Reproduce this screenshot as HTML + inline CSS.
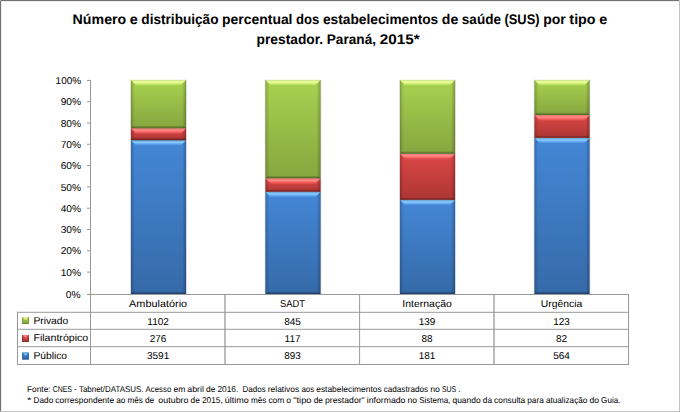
<!DOCTYPE html>
<html><head><meta charset="utf-8"><title>Estabelecimentos de saúde SUS - Paraná 2015</title>
<style>html,body{margin:0;padding:0;background:#fff;width:680px;height:412px;overflow:hidden}
text{white-space:pre}</style></head>
<body>
<svg width="680" height="412" viewBox="0 0 680 412" font-family='"Liberation Sans", Arial, sans-serif' text-rendering="geometricPrecision" style="display:block">
<defs>
<linearGradient id="fg" x1="0" y1="0" x2="0" y2="1"><stop offset="0" stop-color="#a8d250"/><stop offset="1" stop-color="#86a63f"/></linearGradient>
<linearGradient id="tg" x1="0" y1="0" x2="0" y2="1"><stop offset="0" stop-color="#c4e090"/><stop offset="0.38" stop-color="#f5ff99"/><stop offset="0.7" stop-color="#c8ee74"/><stop offset="1" stop-color="#a8d250"/></linearGradient>
<linearGradient id="fr" x1="0" y1="0" x2="0" y2="1"><stop offset="0" stop-color="#dc4846"/><stop offset="1" stop-color="#ac3634"/></linearGradient>
<linearGradient id="tr" x1="0" y1="0" x2="0" y2="1"><stop offset="0" stop-color="#e07870"/><stop offset="0.38" stop-color="#ff8a88"/><stop offset="0.7" stop-color="#f46462"/><stop offset="1" stop-color="#dc4846"/></linearGradient>
<linearGradient id="fb" x1="0" y1="0" x2="0" y2="1"><stop offset="0" stop-color="#4487d6"/><stop offset="1" stop-color="#356aa8"/></linearGradient>
<linearGradient id="tb" x1="0" y1="0" x2="0" y2="1"><stop offset="0" stop-color="#6898c8"/><stop offset="0.38" stop-color="#88d0ff"/><stop offset="0.7" stop-color="#62a4f0"/><stop offset="1" stop-color="#4487d6"/></linearGradient>
<linearGradient id="sl" x1="0" y1="0" x2="1" y2="0"><stop offset="0" stop-color="#000" stop-opacity="0.30"/><stop offset="0.25" stop-color="#000" stop-opacity="0.14"/><stop offset="1" stop-color="#000" stop-opacity="0"/></linearGradient>
<linearGradient id="sr" x1="0" y1="0" x2="1" y2="0"><stop offset="0" stop-color="#000" stop-opacity="0"/><stop offset="0.75" stop-color="#000" stop-opacity="0.18"/><stop offset="1" stop-color="#000" stop-opacity="0.32"/></linearGradient>
<linearGradient id="sb" x1="0" y1="0" x2="0" y2="1"><stop offset="0" stop-color="#000" stop-opacity="0.12"/><stop offset="1" stop-color="#000" stop-opacity="0.38"/></linearGradient>
</defs>
<rect x="0" y="0" width="680" height="412" fill="#fff"/>
<rect x="129.90" y="80" width="1" height="214" fill="#000" opacity="0.07"/>
<rect x="186.10" y="80" width="1" height="214" fill="#201040" opacity="0.09"/>
<rect x="130.90" y="140.15" width="55.20" height="153.85" fill="url(#fb)"/>
<rect x="130.90" y="140.15" width="4" height="153.85" fill="url(#sl)"/>
<rect x="182.10" y="140.15" width="4" height="153.85" fill="url(#sr)"/>
<polygon points="130.90,294.00 186.10,294.00 183.90,291.80 133.10,291.80" fill="url(#sb)"/>
<polygon points="130.90,140.15 186.10,140.15 180.50,145.75 136.50,145.75" fill="url(#tb)"/>
<rect x="130.90" y="128.26" width="55.20" height="11.89" fill="url(#fr)"/>
<rect x="130.90" y="128.26" width="4" height="11.89" fill="url(#sl)"/>
<rect x="182.10" y="128.26" width="4" height="11.89" fill="url(#sr)"/>
<polygon points="130.90,140.15 186.10,140.15 183.90,137.95 133.10,137.95" fill="url(#sb)"/>
<polygon points="130.90,128.26 186.10,128.26 180.70,133.66 136.30,133.66" fill="url(#tr)"/>
<rect x="130.90" y="79.90" width="55.20" height="48.36" fill="url(#fg)"/>
<rect x="130.90" y="79.90" width="4" height="48.36" fill="url(#sl)"/>
<rect x="182.10" y="79.90" width="4" height="48.36" fill="url(#sr)"/>
<polygon points="130.90,128.26 186.10,128.26 183.90,126.06 133.10,126.06" fill="url(#sb)"/>
<polygon points="130.90,79.90 186.10,79.90 180.50,85.50 136.50,85.50" fill="url(#tg)"/>
<rect x="264.40" y="80" width="1" height="214" fill="#000" opacity="0.07"/>
<rect x="320.60" y="80" width="1" height="214" fill="#201040" opacity="0.09"/>
<rect x="265.40" y="191.78" width="55.20" height="102.22" fill="url(#fb)"/>
<rect x="265.40" y="191.78" width="4" height="102.22" fill="url(#sl)"/>
<rect x="316.60" y="191.78" width="4" height="102.22" fill="url(#sr)"/>
<polygon points="265.40,294.00 320.60,294.00 318.40,291.80 267.60,291.80" fill="url(#sb)"/>
<polygon points="265.40,191.78 320.60,191.78 315.00,197.38 271.00,197.38" fill="url(#tb)"/>
<rect x="265.40" y="178.28" width="55.20" height="13.50" fill="url(#fr)"/>
<rect x="265.40" y="178.28" width="4" height="13.50" fill="url(#sl)"/>
<rect x="316.60" y="178.28" width="4" height="13.50" fill="url(#sr)"/>
<polygon points="265.40,191.78 320.60,191.78 318.40,189.58 267.60,189.58" fill="url(#sb)"/>
<polygon points="265.40,178.28 320.60,178.28 315.00,183.88 271.00,183.88" fill="url(#tr)"/>
<rect x="265.40" y="79.90" width="55.20" height="98.38" fill="url(#fg)"/>
<rect x="265.40" y="79.90" width="4" height="98.38" fill="url(#sl)"/>
<rect x="316.60" y="79.90" width="4" height="98.38" fill="url(#sr)"/>
<polygon points="265.40,178.28 320.60,178.28 318.40,176.08 267.60,176.08" fill="url(#sb)"/>
<polygon points="265.40,79.90 320.60,79.90 315.00,85.50 271.00,85.50" fill="url(#tg)"/>
<rect x="398.90" y="80" width="1" height="214" fill="#000" opacity="0.07"/>
<rect x="455.10" y="80" width="1" height="214" fill="#201040" opacity="0.09"/>
<rect x="399.90" y="199.86" width="55.20" height="94.14" fill="url(#fb)"/>
<rect x="399.90" y="199.86" width="4" height="94.14" fill="url(#sl)"/>
<rect x="451.10" y="199.86" width="4" height="94.14" fill="url(#sr)"/>
<polygon points="399.90,294.00 455.10,294.00 452.90,291.80 402.10,291.80" fill="url(#sb)"/>
<polygon points="399.90,199.86 455.10,199.86 449.50,205.46 405.50,205.46" fill="url(#tb)"/>
<rect x="399.90" y="153.71" width="55.20" height="46.16" fill="url(#fr)"/>
<rect x="399.90" y="153.71" width="4" height="46.16" fill="url(#sl)"/>
<rect x="451.10" y="153.71" width="4" height="46.16" fill="url(#sr)"/>
<polygon points="399.90,199.86 455.10,199.86 452.90,197.66 402.10,197.66" fill="url(#sb)"/>
<polygon points="399.90,153.71 455.10,153.71 449.50,159.31 405.50,159.31" fill="url(#tr)"/>
<rect x="399.90" y="79.90" width="55.20" height="73.81" fill="url(#fg)"/>
<rect x="399.90" y="79.90" width="4" height="73.81" fill="url(#sl)"/>
<rect x="451.10" y="79.90" width="4" height="73.81" fill="url(#sr)"/>
<polygon points="399.90,153.71 455.10,153.71 452.90,151.51 402.10,151.51" fill="url(#sb)"/>
<polygon points="399.90,79.90 455.10,79.90 449.50,85.50 405.50,85.50" fill="url(#tg)"/>
<rect x="533.40" y="80" width="1" height="214" fill="#000" opacity="0.07"/>
<rect x="589.60" y="80" width="1" height="214" fill="#201040" opacity="0.09"/>
<rect x="534.40" y="137.85" width="55.20" height="156.15" fill="url(#fb)"/>
<rect x="534.40" y="137.85" width="4" height="156.15" fill="url(#sl)"/>
<rect x="585.60" y="137.85" width="4" height="156.15" fill="url(#sr)"/>
<polygon points="534.40,294.00 589.60,294.00 587.40,291.80 536.60,291.80" fill="url(#sb)"/>
<polygon points="534.40,137.85 589.60,137.85 584.00,143.45 540.00,143.45" fill="url(#tb)"/>
<rect x="534.40" y="115.03" width="55.20" height="22.82" fill="url(#fr)"/>
<rect x="534.40" y="115.03" width="4" height="22.82" fill="url(#sl)"/>
<rect x="585.60" y="115.03" width="4" height="22.82" fill="url(#sr)"/>
<polygon points="534.40,137.85 589.60,137.85 587.40,135.65 536.60,135.65" fill="url(#sb)"/>
<polygon points="534.40,115.03 589.60,115.03 584.00,120.63 540.00,120.63" fill="url(#tr)"/>
<rect x="534.40" y="79.90" width="55.20" height="35.13" fill="url(#fg)"/>
<rect x="534.40" y="79.90" width="4" height="35.13" fill="url(#sl)"/>
<rect x="585.60" y="79.90" width="4" height="35.13" fill="url(#sr)"/>
<polygon points="534.40,115.03 589.60,115.03 587.40,112.83 536.60,112.83" fill="url(#sb)"/>
<polygon points="534.40,79.90 589.60,79.90 584.00,85.50 540.00,85.50" fill="url(#tg)"/>
<line x1="90.5" y1="80" x2="90.5" y2="294" stroke="#999999" stroke-width="1"/>
<line x1="87" y1="80.40" x2="90" y2="80.40" stroke="#999999" stroke-width="1"/>
<line x1="87" y1="101.70" x2="90" y2="101.70" stroke="#999999" stroke-width="1"/>
<line x1="87" y1="123.00" x2="90" y2="123.00" stroke="#999999" stroke-width="1"/>
<line x1="87" y1="144.30" x2="90" y2="144.30" stroke="#999999" stroke-width="1"/>
<line x1="87" y1="165.60" x2="90" y2="165.60" stroke="#999999" stroke-width="1"/>
<line x1="87" y1="186.90" x2="90" y2="186.90" stroke="#999999" stroke-width="1"/>
<line x1="87" y1="208.20" x2="90" y2="208.20" stroke="#999999" stroke-width="1"/>
<line x1="87" y1="229.50" x2="90" y2="229.50" stroke="#999999" stroke-width="1"/>
<line x1="87" y1="250.80" x2="90" y2="250.80" stroke="#999999" stroke-width="1"/>
<line x1="87" y1="272.10" x2="90" y2="272.10" stroke="#999999" stroke-width="1"/>
<line x1="87" y1="294.5" x2="629.0" y2="294.5" stroke="#999999"/>
<line x1="17" y1="312.3" x2="629.0" y2="312.3" stroke="#999999"/>
<line x1="17" y1="329.3" x2="629.0" y2="329.3" stroke="#999999"/>
<line x1="17" y1="346.7" x2="629.0" y2="346.7" stroke="#999999"/>
<line x1="17" y1="364.5" x2="629.0" y2="364.5" stroke="#999999"/>
<line x1="17.5" y1="311.8" x2="17.5" y2="365.0" stroke="#999999"/>
<line x1="90.5" y1="294.5" x2="90.5" y2="365.0" stroke="#999999" stroke-width="1"/>
<line x1="225.0" y1="294.5" x2="225.0" y2="365.0" stroke="#999999" stroke-width="1.3"/>
<line x1="359.6" y1="294.5" x2="359.6" y2="365.0" stroke="#999999" stroke-width="1"/>
<line x1="494.0" y1="294.5" x2="494.0" y2="365.0" stroke="#999999" stroke-width="1.3"/>
<line x1="628.5" y1="294.5" x2="628.5" y2="365.0" stroke="#999999" stroke-width="1"/>
<rect x="22" y="317" width="7" height="7" fill="#86a63f"/>
<rect x="23" y="317" width="5" height="6" fill="url(#fg)"/>
<polygon points="22.5,317 28.5,317 25.5,320.6" fill="#f5ff99" opacity="0.75"/>
<rect x="22" y="323" width="7" height="1" fill="#668a30" opacity="0.8"/>
<rect x="22" y="335" width="7" height="7" fill="#ac3634"/>
<rect x="23" y="335" width="5" height="6" fill="url(#fr)"/>
<polygon points="22.5,335 28.5,335 25.5,338.6" fill="#ff8a88" opacity="0.75"/>
<rect x="22" y="341" width="7" height="1" fill="#7a2826" opacity="0.8"/>
<rect x="22" y="352.5" width="7" height="7" fill="#356aa8"/>
<rect x="23" y="352.5" width="5" height="6" fill="url(#fb)"/>
<polygon points="22.5,352.5 28.5,352.5 25.5,356.1" fill="#88d0ff" opacity="0.75"/>
<rect x="22" y="358.5" width="7" height="1" fill="#2a5590" opacity="0.8"/>
<text y="24.0" font-size="14" font-weight="bold" fill="#000"><tspan x="72.60" textLength="53.65" lengthAdjust="spacingAndGlyphs">Número</tspan> <tspan x="129.83" textLength="7.97" lengthAdjust="spacingAndGlyphs">e</tspan> <tspan x="141.37" textLength="77.16" lengthAdjust="spacingAndGlyphs">distribuição</tspan> <tspan x="222.11" textLength="70.39" lengthAdjust="spacingAndGlyphs">percentual</tspan> <tspan x="296.09" textLength="23.30" lengthAdjust="spacingAndGlyphs">dos</tspan> <tspan x="322.97" textLength="115.29" lengthAdjust="spacingAndGlyphs">estabelecimentos</tspan> <tspan x="441.83" textLength="16.44" lengthAdjust="spacingAndGlyphs">de</tspan> <tspan x="461.86" textLength="39.04" lengthAdjust="spacingAndGlyphs">saúde</tspan> <tspan x="504.48" textLength="35.12" lengthAdjust="spacingAndGlyphs">(SUS)</tspan> <tspan x="543.18" textLength="22.60" lengthAdjust="spacingAndGlyphs">por</tspan> <tspan x="569.36" textLength="26.24" lengthAdjust="spacingAndGlyphs">tipo</tspan> <tspan x="599.19" textLength="7.97" lengthAdjust="spacingAndGlyphs">e</tspan></text>
<text y="43.6" font-size="14" font-weight="bold" fill="#000"><tspan x="256.60" textLength="66.58" lengthAdjust="spacingAndGlyphs">prestador.</tspan> <tspan x="326.76" textLength="49.35" lengthAdjust="spacingAndGlyphs">Paraná,</tspan> <tspan x="379.70" textLength="39.92" lengthAdjust="spacingAndGlyphs">2015*</tspan></text>
<text y="391.8" font-size="8.5" font-weight="normal" fill="#000"><tspan x="27.00" textLength="23.61" lengthAdjust="spacingAndGlyphs">Fonte:</tspan> <tspan x="52.67" textLength="19.37" lengthAdjust="spacingAndGlyphs">CNES</tspan> <tspan x="74.12" textLength="2.81" lengthAdjust="spacingAndGlyphs">-</tspan> <tspan x="78.99" textLength="64.56" lengthAdjust="spacingAndGlyphs">Tabnet/DATASUS.</tspan> <tspan x="145.62" textLength="25.71" lengthAdjust="spacingAndGlyphs">Acesso</tspan> <tspan x="173.40" textLength="11.86" lengthAdjust="spacingAndGlyphs">em</tspan> <tspan x="187.33" textLength="16.59" lengthAdjust="spacingAndGlyphs">abril</tspan> <tspan x="205.99" textLength="9.37" lengthAdjust="spacingAndGlyphs">de</tspan> <tspan x="217.42" textLength="20.88" lengthAdjust="spacingAndGlyphs">2016.</tspan> <tspan x="242.44" textLength="23.24" lengthAdjust="spacingAndGlyphs">Dados</tspan> <tspan x="267.74" textLength="31.58" lengthAdjust="spacingAndGlyphs">relativos</tspan> <tspan x="301.39" textLength="12.80" lengthAdjust="spacingAndGlyphs">aos</tspan> <tspan x="316.26" textLength="65.33" lengthAdjust="spacingAndGlyphs">estabelecimentos</tspan> <tspan x="383.65" textLength="44.51" lengthAdjust="spacingAndGlyphs">cadastrados</tspan> <tspan x="430.24" textLength="9.64" lengthAdjust="spacingAndGlyphs">no</tspan> <tspan x="441.95" textLength="14.29" lengthAdjust="spacingAndGlyphs">SUS</tspan> <tspan x="458.30" textLength="2.31" lengthAdjust="spacingAndGlyphs">.</tspan></text>
<text y="402.7" font-size="8.5" font-weight="normal" fill="#000"><tspan x="27.00" textLength="4.55" lengthAdjust="spacingAndGlyphs">*</tspan> <tspan x="33.62" textLength="19.59" lengthAdjust="spacingAndGlyphs">Dado</tspan> <tspan x="55.27" textLength="58.88" lengthAdjust="spacingAndGlyphs">correspondente</tspan> <tspan x="116.21" textLength="9.18" lengthAdjust="spacingAndGlyphs">ao</tspan> <tspan x="127.46" textLength="15.40" lengthAdjust="spacingAndGlyphs">mês</tspan> <tspan x="144.93" textLength="9.34" lengthAdjust="spacingAndGlyphs">de</tspan> <tspan x="158.39" textLength="30.10" lengthAdjust="spacingAndGlyphs">outubro</tspan> <tspan x="190.56" textLength="9.34" lengthAdjust="spacingAndGlyphs">de</tspan> <tspan x="201.96" textLength="20.78" lengthAdjust="spacingAndGlyphs">2015,</tspan> <tspan x="224.80" textLength="24.07" lengthAdjust="spacingAndGlyphs">último</tspan> <tspan x="250.93" textLength="15.40" lengthAdjust="spacingAndGlyphs">mês</tspan> <tspan x="268.40" textLength="15.89" lengthAdjust="spacingAndGlyphs">com</tspan> <tspan x="286.35" textLength="4.81" lengthAdjust="spacingAndGlyphs">o</tspan> <tspan x="293.23" textLength="18.35" lengthAdjust="spacingAndGlyphs">&quot;tipo</tspan> <tspan x="313.65" textLength="9.34" lengthAdjust="spacingAndGlyphs">de</tspan> <tspan x="325.05" textLength="39.62" lengthAdjust="spacingAndGlyphs">prestador&quot;</tspan> <tspan x="366.73" textLength="38.69" lengthAdjust="spacingAndGlyphs">informado</tspan> <tspan x="407.49" textLength="9.61" lengthAdjust="spacingAndGlyphs">no</tspan> <tspan x="419.16" textLength="31.19" lengthAdjust="spacingAndGlyphs">Sistema,</tspan> <tspan x="452.41" textLength="28.36" lengthAdjust="spacingAndGlyphs">quando</tspan> <tspan x="482.84" textLength="9.17" lengthAdjust="spacingAndGlyphs">da</tspan> <tspan x="494.07" textLength="31.16" lengthAdjust="spacingAndGlyphs">consulta</tspan> <tspan x="527.29" textLength="16.53" lengthAdjust="spacingAndGlyphs">para</tspan> <tspan x="545.89" textLength="41.49" lengthAdjust="spacingAndGlyphs">atualização</tspan> <tspan x="589.44" textLength="9.61" lengthAdjust="spacingAndGlyphs">do</tspan> <tspan x="601.12" textLength="19.32" lengthAdjust="spacingAndGlyphs">Guia.</tspan></text>
<text x="81.1" y="84.0" font-size="10" text-anchor="end" font-weight="normal" fill="#000" textLength="25.5" lengthAdjust="spacingAndGlyphs">100%</text>
<text x="81.1" y="105.3" font-size="10" text-anchor="end" font-weight="normal" fill="#000" textLength="20.4" lengthAdjust="spacingAndGlyphs">90%</text>
<text x="81.1" y="126.6" font-size="10" text-anchor="end" font-weight="normal" fill="#000" textLength="20.4" lengthAdjust="spacingAndGlyphs">80%</text>
<text x="81.1" y="147.9" font-size="10" text-anchor="end" font-weight="normal" fill="#000" textLength="20.4" lengthAdjust="spacingAndGlyphs">70%</text>
<text x="81.1" y="169.2" font-size="10" text-anchor="end" font-weight="normal" fill="#000" textLength="20.4" lengthAdjust="spacingAndGlyphs">60%</text>
<text x="81.1" y="190.5" font-size="10" text-anchor="end" font-weight="normal" fill="#000" textLength="20.4" lengthAdjust="spacingAndGlyphs">50%</text>
<text x="81.1" y="211.8" font-size="10" text-anchor="end" font-weight="normal" fill="#000" textLength="20.4" lengthAdjust="spacingAndGlyphs">40%</text>
<text x="81.1" y="233.1" font-size="10" text-anchor="end" font-weight="normal" fill="#000" textLength="20.4" lengthAdjust="spacingAndGlyphs">30%</text>
<text x="81.1" y="254.4" font-size="10" text-anchor="end" font-weight="normal" fill="#000" textLength="20.4" lengthAdjust="spacingAndGlyphs">20%</text>
<text x="81.1" y="275.7" font-size="10" text-anchor="end" font-weight="normal" fill="#000" textLength="20.4" lengthAdjust="spacingAndGlyphs">10%</text>
<text x="80.5" y="298.1" font-size="10" text-anchor="end" font-weight="normal" fill="#000" textLength="14.8" lengthAdjust="spacingAndGlyphs">0%</text>
<text x="158.1" y="306.9" font-size="10" text-anchor="middle" font-weight="normal" fill="#000" textLength="58.0" lengthAdjust="spacingAndGlyphs">Ambulatório</text>
<text x="158.1" y="324.7" font-size="10" text-anchor="middle" font-weight="normal" fill="#000">1102</text>
<text x="158.1" y="341.9" font-size="10" text-anchor="middle" font-weight="normal" fill="#000">276</text>
<text x="158.1" y="359.2" font-size="10" text-anchor="middle" font-weight="normal" fill="#000">3591</text>
<text x="292.6" y="306.9" font-size="10" text-anchor="middle" font-weight="normal" fill="#000" textLength="25.0" lengthAdjust="spacingAndGlyphs">SADT</text>
<text x="292.6" y="324.7" font-size="10" text-anchor="middle" font-weight="normal" fill="#000">845</text>
<text x="292.6" y="341.9" font-size="10" text-anchor="middle" font-weight="normal" fill="#000">117</text>
<text x="292.6" y="359.2" font-size="10" text-anchor="middle" font-weight="normal" fill="#000">893</text>
<text x="427.1" y="306.9" font-size="10" text-anchor="middle" font-weight="normal" fill="#000" textLength="49.5" lengthAdjust="spacingAndGlyphs">Internação</text>
<text x="427.1" y="324.7" font-size="10" text-anchor="middle" font-weight="normal" fill="#000">139</text>
<text x="427.1" y="341.9" font-size="10" text-anchor="middle" font-weight="normal" fill="#000">88</text>
<text x="427.1" y="359.2" font-size="10" text-anchor="middle" font-weight="normal" fill="#000">181</text>
<text x="561.5" y="306.9" font-size="10" text-anchor="middle" font-weight="normal" fill="#000" textLength="41.4" lengthAdjust="spacingAndGlyphs">Urgência</text>
<text x="561.5" y="324.7" font-size="10" text-anchor="middle" font-weight="normal" fill="#000">123</text>
<text x="561.5" y="341.9" font-size="10" text-anchor="middle" font-weight="normal" fill="#000">82</text>
<text x="561.5" y="359.2" font-size="10" text-anchor="middle" font-weight="normal" fill="#000">564</text>
<text x="33.4" y="323.7" font-size="10" text-anchor="start" font-weight="normal" fill="#000" textLength="34.9" lengthAdjust="spacingAndGlyphs">Privado</text>
<text x="33.4" y="341.1" font-size="10" text-anchor="start" font-weight="normal" fill="#000" textLength="54.9" lengthAdjust="spacingAndGlyphs">Filantrópico</text>
<text x="33.4" y="358.5" font-size="10" text-anchor="start" font-weight="normal" fill="#000" textLength="33.7" lengthAdjust="spacingAndGlyphs">Público</text>
<rect x="0.5" y="0.5" width="679" height="411" fill="none" stroke="#c4c4c4"/>
<line x1="0" y1="0.5" x2="679" y2="0.5" stroke="#727272"/>
<line x1="0.5" y1="0" x2="0.5" y2="411" stroke="#727272"/>
<rect x="0" y="0" width="1" height="1" fill="#b0b0b0"/>
<rect x="679" y="411" width="1" height="1" fill="#a8a8a8"/>
<line x1="1" y1="1.5" x2="679" y2="1.5" stroke="#eeeeee"/>
<line x1="1.5" y1="1" x2="1.5" y2="411" stroke="#eeeeee"/>
</svg>
</body></html>
